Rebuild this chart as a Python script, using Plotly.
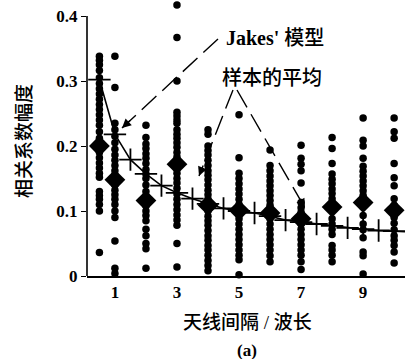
import plotly.graph_objects as go

# ---- data ----
separation = [0.5, 1, 2, 3, 4, 5, 6, 7, 8, 9, 10]

s_0_5 = [0.338, 0.332, 0.325, 0.316, 0.305, 0.296, 0.288, 0.28, 0.272, 0.264, 0.256, 0.248, 0.24,
         0.232, 0.222, 0.212, 0.205, 0.19, 0.182, 0.174, 0.166, 0.158, 0.152, 0.13, 0.124, 0.118,
         0.11, 0.1, 0.036]
s_1 = [0.338, 0.29, 0.235, 0.225, 0.215, 0.205, 0.195, 0.186, 0.178, 0.17, 0.162, 0.155, 0.148,
       0.14, 0.132, 0.125, 0.118, 0.11, 0.1, 0.09, 0.054, 0.012, 0.004]
s_2 = [0.232, 0.213, 0.203, 0.196, 0.188, 0.181, 0.173, 0.164, 0.157, 0.15, 0.14, 0.13, 0.122,
       0.115, 0.108, 0.1, 0.093, 0.085, 0.072, 0.062, 0.05, 0.042, 0.012]
s_3 = [0.417, 0.367, 0.3, 0.252, 0.246, 0.24, 0.235, 0.225, 0.218, 0.212, 0.205, 0.198, 0.19,
       0.183, 0.165, 0.158, 0.15, 0.143, 0.135, 0.126, 0.118, 0.11, 0.102, 0.094, 0.086, 0.078,
       0.05, 0.014]
s_4 = [0.225, 0.218, 0.2, 0.193, 0.186, 0.178, 0.17, 0.162, 0.155, 0.148, 0.14, 0.132, 0.125,
       0.118, 0.11, 0.1, 0.092, 0.085, 0.078, 0.07, 0.062, 0.055, 0.047, 0.04, 0.032, 0.024,
       0.016, 0.008]
s_5 = [0.248, 0.182, 0.158, 0.15, 0.142, 0.134, 0.126, 0.118, 0.11, 0.095, 0.088, 0.08, 0.072,
       0.064, 0.056, 0.048, 0.04, 0.032, 0.025, 0.002]
s_6 = [0.194, 0.17, 0.162, 0.154, 0.146, 0.139, 0.131, 0.124, 0.116, 0.109, 0.088, 0.08, 0.072,
       0.064, 0.056, 0.048, 0.04, 0.031, 0.022]
s_7 = [0.201, 0.181, 0.172, 0.162, 0.143, 0.113, 0.105, 0.098, 0.08, 0.072, 0.064, 0.056, 0.048,
       0.04, 0.032, 0.022, 0.01]
s_8 = [0.213, 0.196, 0.173, 0.157, 0.149, 0.142, 0.134, 0.127, 0.119, 0.088, 0.08, 0.072, 0.064,
       0.047, 0.04, 0.032, 0.022]
s_9 = [0.243, 0.209, 0.2, 0.181, 0.169, 0.161, 0.154, 0.146, 0.139, 0.131, 0.124, 0.093, 0.08,
       0.071, 0.059, 0.037, 0.031, 0.003]
s_10 = [0.243, 0.222, 0.212, 0.173, 0.151, 0.139, 0.119, 0.109, 0.09, 0.081, 0.071, 0.062,
        0.055, 0.047, 0.037, 0.02]

sample_mean = [0.2, 0.148, 0.116, 0.172, 0.109, 0.101, 0.097, 0.088, 0.106, 0.113, 0.101]

jakes_x = [0.5, 1, 1.5, 2, 2.5, 3, 3.5, 4, 4.5, 5, 5.5, 6, 6.5, 7, 7.5, 8, 8.5, 9, 9.5, 10]
jakes_y = [0.302, 0.218, 0.179, 0.157, 0.139, 0.128, 0.119, 0.111, 0.104, 0.100, 0.097, 0.092,
           0.086, 0.083, 0.080, 0.077, 0.074, 0.072, 0.070, 0.069]

x_ticks = [1, 3, 5, 7, 9]
y_ticks = [0, 0.1, 0.2, 0.3, 0.4]
y_ticktext = ["0", "0.1", "0.2", "0.3", "0.4"]

columns = [s_0_5, s_1, s_2, s_3, s_4, s_5, s_6, s_7, s_8, s_9, s_10]
dot_x, dot_y = [], []
for sx, col in zip(separation, columns):
    dot_x += [sx] * len(col)
    dot_y += col

# ---- figure ----
W, H = 405, 359
ML, MR, MT, MB = 87, 0, 0, 83
XR = [0.1, 10.35]
Y_TOP_AXIS = 0.4
YR = [0, Y_TOP_AXIS * (H - MB - MT) / (H - MB - 16)]


def px2x(px):
    return XR[0] + (px - ML) / (W - ML - MR) * (XR[1] - XR[0])


def py2y(py):
    return YR[0] + (H - MB - py) / (H - MB - MT) * (YR[1] - YR[0])


def pxp(px):
    return (px - ML) / (W - ML - MR)


def pyp(py):
    return (H - MB - py) / (H - MB - MT)


fig = go.Figure()
fig.add_trace(go.Scatter(x=jakes_x + [XR[1]], y=jakes_y + [0.068], mode="lines",
                         line=dict(color="black", width=1.6),
                         cliponaxis=False, showlegend=False))
fig.add_trace(go.Scatter(x=jakes_x, y=jakes_y, mode="markers",
                         marker=dict(symbol="cross-thin", size=16,
                                     line=dict(color="black", width=1.8)),
                         cliponaxis=False, showlegend=False))
fig.add_trace(go.Scatter(x=dot_x, y=dot_y, mode="markers",
                         marker=dict(symbol="circle", size=7.5, color="black"),
                         cliponaxis=False, showlegend=False))
fig.add_trace(go.Scatter(x=separation, y=sample_mean, mode="markers",
                         marker=dict(symbol="diamond", size=16, color="black"),
                         cliponaxis=False, showlegend=False))

# y-axis line stops at 0.4 (a dot sits above it)
fig.add_shape(type="line", xref="paper", yref="y", x0=0, x1=0, y0=0, y1=Y_TOP_AXIS,
              line=dict(color="black", width=1.6))

cjk = "Liberation Serif, Noto Sans CJK SC"

# dashed arrows
arrows = [((218, 39), (122, 128)), ((233, 90), (199, 176)), ((237, 90), (305, 208))]
for (sx, sy), (tx, ty) in arrows:
    fig.add_shape(type="line", xref="x", yref="y",
                  x0=px2x(sx), y0=py2y(sy), x1=px2x(tx), y1=py2y(ty),
                  line=dict(color="black", width=1.4, dash="20px,8px"))
    dx, dy = sx - tx, sy - ty
    n = (dx * dx + dy * dy) ** 0.5
    fig.add_annotation(x=px2x(tx), y=py2y(ty), xref="x", yref="y", text="",
                       showarrow=True, ax=dx / n * 13, ay=dy / n * 13,
                       arrowhead=2, arrowsize=1.3, arrowwidth=1.4, arrowcolor="black")

fig.add_annotation(x=px2x(275), y=py2y(38), xref="x", yref="y",
                   text="<b style='font-size:20px'>Jakes'</b> 模型",
                   xanchor="center", yanchor="middle", showarrow=False,
                   font=dict(family=cjk, size=20, color="black", weight=500))
fig.add_annotation(x=px2x(272), y=py2y(78), xref="x", yref="y", text="样本的平均",
                   xanchor="center", yanchor="middle", showarrow=False,
                   font=dict(family=cjk, size=20, color="black", weight=500))

fig.add_annotation(x=pxp(247), y=pyp(322), xref="paper", yref="paper",
                   text="天线间隔 / 波长", showarrow=False,
                   xanchor="center", yanchor="middle",
                   font=dict(family=cjk, size=19, color="black", weight=500))
fig.add_annotation(x=pxp(247), y=pyp(350), xref="paper", yref="paper",
                   text="<b>(a)</b>", showarrow=False,
                   xanchor="center", yanchor="middle",
                   font=dict(family="Liberation Serif", size=17, color="black"))
fig.add_annotation(x=pxp(24), y=pyp(141), xref="paper", yref="paper",
                   text="相关系数幅度", showarrow=False, textangle=-90,
                   xanchor="center", yanchor="middle",
                   font=dict(family=cjk, size=19, color="black", weight=500))

tick_font = dict(family="Liberation Serif", size=17, color="black", weight="bold")

fig.update_layout(
    width=W, height=H, autosize=False,
    margin=dict(l=ML, r=MR, t=MT, b=MB),
    paper_bgcolor="white", plot_bgcolor="white",
    xaxis=dict(range=XR, showgrid=False, zeroline=False, showline=True,
               linecolor="black", linewidth=1.6, tickvals=x_ticks, ticks="",
               tickfont=tick_font),
    yaxis=dict(range=YR, showgrid=False, zeroline=False, showline=False,
               tickvals=y_ticks, ticktext=y_ticktext,
               ticks="outside", ticklen=5, tickcolor="black", tickwidth=1.3,
               tickfont=tick_font),
)

fig.write_html("out.html")
